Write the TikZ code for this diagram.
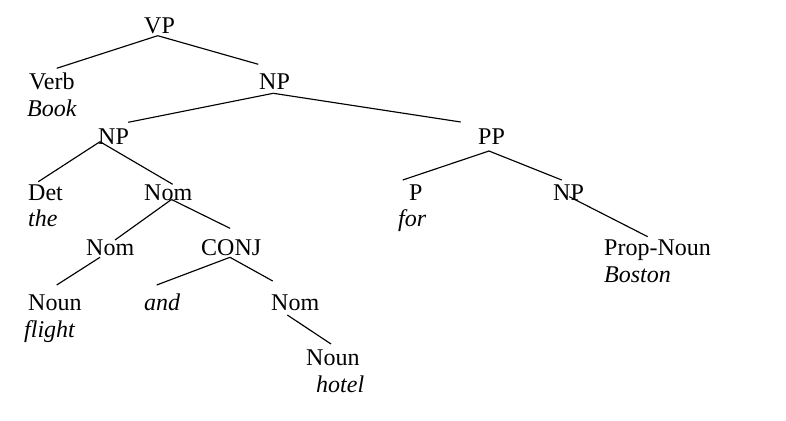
\documentclass[tikz,border=0pt]{standalone}
\usepackage{fontspec}
\setmainfont{Liberation Serif}
\begin{document}
\begin{tikzpicture}[x=1pt,y=-1pt,
  lab/.style={anchor=base west,inner sep=0pt,font=\fontsize{24}{28}\selectfont},
  word/.style={lab,font=\fontsize{24}{28}\selectfont\itshape},
  edge/.style={line width=1.15pt,black}]
\useasboundingbox (0,0) rectangle (786,420);
% nodes
\node[lab] (VP) at (144,33.5) {VP};
\node[lab] (Verb) at (29,89) {Verb};
\node[word] (Book) at (27,116.5) {Book};
\node[lab] (NPa) at (259,89) {NP};
\node[lab] (NPb) at (98,144.5) {NP};
\node[lab] (PP) at (478,144.5) {PP};
\node[lab] (Det) at (28,200) {Det};
\node[word] (the) at (28,226.5) {the};
\node[lab] (Noma) at (144,200) {Nom};
\node[lab] (P) at (409,200) {P};
\node[word] (for) at (398,226.5) {for};
\node[lab] (NPc) at (553,200) {NP};
\node[lab] (Nomb) at (86,255) {Nom};
\node[lab] (CONJ) at (201,255) {CONJ};
\node[lab] (PropNoun) at (604,255) {Prop-Noun};
\node[word] (Boston) at (604,282) {Boston};
\node[lab] (Nouna) at (28,310) {Noun};
\node[word] (flight) at (24,337) {flight};
\node[word] (and) at (144,310) {and};
\node[lab] (Nomc) at (271,310) {Nom};
\node[lab] (Nounb) at (306,365.5) {Noun};
\node[word] (hotel) at (316,392.5) {hotel};
% connectors
\draw[edge] ([shift={(13.7,2.2)}]VP.base west) -- ([shift={(27.7,-20.7)}]Verb.base west);
\draw[edge] ([shift={(13.7,2.2)}]VP.base west) -- ([shift={(-0.7,-24.7)}]NPa.base west);
\draw[edge] ([shift={(14.3,4.3)}]NPa.base west) -- ([shift={(30.3,-22.2)}]NPb.base west);
\draw[edge] ([shift={(14.3,4.3)}]NPa.base west) -- ([shift={(-17.3,-22.5)}]PP.base west);
\draw[edge] ([shift={(2,-2.8)}]NPb.base west) -- ([shift={(10.3,-18.3)}]Det.base west);
\draw[edge] ([shift={(2,-2.8)}]NPb.base west) -- ([shift={(28.7,-15.7)}]Noma.base west);
\draw[edge] ([shift={(27.5,-0.5)}]Noma.base west) -- ([shift={(29,-15)}]Nomb.base west);
\draw[edge] ([shift={(27.5,-0.5)}]Noma.base west) -- ([shift={(29,-26.7)}]CONJ.base west);
\draw[edge] ([shift={(14,2.3)}]Nomb.base west) -- ([shift={(28.7,-25)}]Nouna.base west);
\draw[edge] ([shift={(29,2.3)}]CONJ.base west) -- ([shift={(12.7,-25)}]and.base west);
\draw[edge] ([shift={(29,2.3)}]CONJ.base west) -- ([shift={(1.7,-29)}]Nomc.base west);
\draw[edge] ([shift={(16.3,5)}]Nomc.base west) -- ([shift={(25,-21.5)}]Nounb.base west);
\draw[edge] ([shift={(11,6.5)}]PP.base west) -- ([shift={(-6.3,-20)}]P.base west);
\draw[edge] ([shift={(11,6.5)}]PP.base west) -- ([shift={(8.7,-20)}]NPc.base west);
\draw[edge] ([shift={(16.3,-3.3)}]NPc.base west) -- ([shift={(43.7,-18.3)}]PropNoun.base west);
\end{tikzpicture}
\end{document}
